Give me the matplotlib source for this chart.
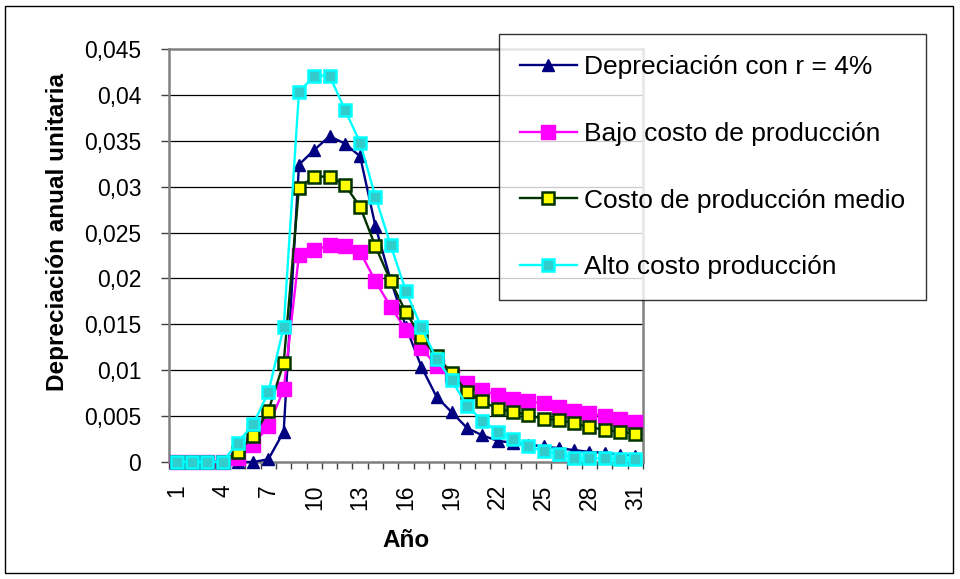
import matplotlib
matplotlib.use("Agg")
import matplotlib.pyplot as plt
from matplotlib.patches import Rectangle

plt.rcParams['font.family'] = ['Liberation Sans', 'DejaVu Sans']

years = list(range(1, 32))
label_years = [1, 4, 7, 10, 13, 16, 19, 22, 25, 28, 31]

dep_r4 = [0, 0, 0, 0, 0, 0, 0.0003, 0.0033, 0.0324, 0.0340, 0.0355, 0.0347, 0.0333,
          0.0257, 0.0198, 0.0147, 0.0104, 0.0071, 0.0054, 0.0037, 0.0029, 0.0023,
          0.0021, 0.0019, 0.0017, 0.0015, 0.0013, 0.0011, 0.0010, 0.0008, 0.0007]
bajo = [0, 0, 0, 0, 0.0004, 0.0019, 0.0039, 0.0079, 0.0226, 0.0231, 0.0236, 0.0235,
        0.0229, 0.0197, 0.0169, 0.0144, 0.0124, 0.0105, 0.0095, 0.0086, 0.0078,
        0.0073, 0.0069, 0.0066, 0.0064, 0.0060, 0.0056, 0.0053, 0.0050, 0.0047, 0.0044]
medio = [0, 0, 0, 0, 0.0011, 0.0028, 0.0056, 0.0108, 0.0299, 0.0311, 0.0311, 0.0302,
         0.0278, 0.0235, 0.0197, 0.0163, 0.0136, 0.0115, 0.0097, 0.0076, 0.0066,
         0.0058, 0.0055, 0.0051, 0.0047, 0.0046, 0.0042, 0.0038, 0.0035, 0.0033, 0.0031]
alto = [0, 0, 0, 0, 0.0021, 0.0041, 0.0076, 0.0147, 0.0403, 0.0421, 0.0421, 0.0384,
        0.0348, 0.0289, 0.0236, 0.0186, 0.0147, 0.0112, 0.0089, 0.0061, 0.0045,
        0.0033, 0.0025, 0.0017, 0.0012, 0.0009, 0.0004, 0.0004, 0.0004, 0.0003, 0.0003]

series_names = ["Depreciación con r = 4%", "Bajo costo de producción",
                "Costo de producción medio", "Alto costo producción"]
y_ticks = [0, 0.005, 0.01, 0.015, 0.02, 0.025, 0.03, 0.035, 0.04, 0.045]
y_tick_labels = ["0", "0,005", "0,01", "0,015", "0,02", "0,025", "0,03", "0,035", "0,04", "0,045"]

W, H = 960, 579
fig = plt.figure(figsize=(W / 100, H / 100), dpi=100)
fig.patch.set_facecolor('white')
# outer chart border
fig.add_artist(Rectangle((5 / W, 1 - 573 / H), (953 - 5) / W, (573 - 6) / H,
                         transform=fig.transFigure, fill=False, edgecolor='black', lw=1.0))

ax = fig.add_axes([169 / W, 1 - 462 / H, (643 - 169) / W, (462 - 49) / H])
ax.set_xlim(0.5, 31.5)
ax.set_ylim(0, 0.045)

for yv in y_ticks[1:-1]:
    ax.axhline(yv, color='black', lw=0.9, zorder=1)

l1, = ax.plot(years, dep_r4, color='#000080', lw=1.7, marker='^', markersize=8,
              markerfacecolor='#000080', markeredgecolor='#000080', zorder=3, clip_on=False)
l2, = ax.plot(years, bajo, color='#FF00FF', lw=1.7, marker='s', markersize=9.5,
              markerfacecolor='#FF00FF', markeredgecolor='#FF00FF', zorder=4, clip_on=False)
l3, = ax.plot(years, medio, color='#003300', lw=1.7, marker='s', markersize=8.5,
              markerfacecolor='#FFFF00', markeredgecolor='#003300', markeredgewidth=1.8,
              zorder=5, clip_on=False)
l4, = ax.plot(years, alto, color='#00FFFF', lw=1.7, marker='s', markersize=8.5,
              markerfacecolor='#33CCCC', markeredgecolor='#00FFFF', markeredgewidth=1.8,
              zorder=6, clip_on=False)

for s in ax.spines.values():
    s.set_color('#808080')
    s.set_linewidth(1.8)

ax.set_yticks(y_ticks)
ax.set_yticklabels(y_tick_labels)
ax.tick_params(axis='y', direction='out', length=6, width=1, color='#404040',
               labelsize=16.5, pad=14)

ax.set_xticks([x + 0.5 for x in range(0, 32)])
ax.set_xticklabels([])
ax.tick_params(axis='x', which='major', direction='out', length=5, width=1, color='#404040')
ax.set_xticks(label_years, minor=True)
ax.set_xticklabels([str(v) for v in label_years], minor=True, rotation=90)
ax.tick_params(axis='x', which='minor', length=0, labelsize=16.5, pad=16)

ax.set_xlabel("Año", fontsize=17.5, fontweight='bold')
ax.xaxis.set_label_coords(0.5, -0.19)
ax.xaxis.label.set_va('center')
ax.set_ylabel("Depreciación anual unitaria", fontsize=17.5, fontweight='bold')
ax.yaxis.set_label_coords(-0.236, 0.557)
ax.yaxis.label.set_va('center')

leg = fig.legend([l1, l2, l3, l4], series_names, loc='upper left',
                 bbox_to_anchor=(499 / W, 1 - 34 / H), fontsize=19,
                 frameon=True, fancybox=False, shadow=False,
                 handlelength=2.15, handletextpad=0.27, labelspacing=1.62,
                 borderpad=0.8, borderaxespad=0)
leg.get_frame().set_edgecolor('black')
leg.get_frame().set_linewidth(1.0)
leg.set_zorder(10)

fig.savefig("out.png", dpi=100, facecolor='white')
